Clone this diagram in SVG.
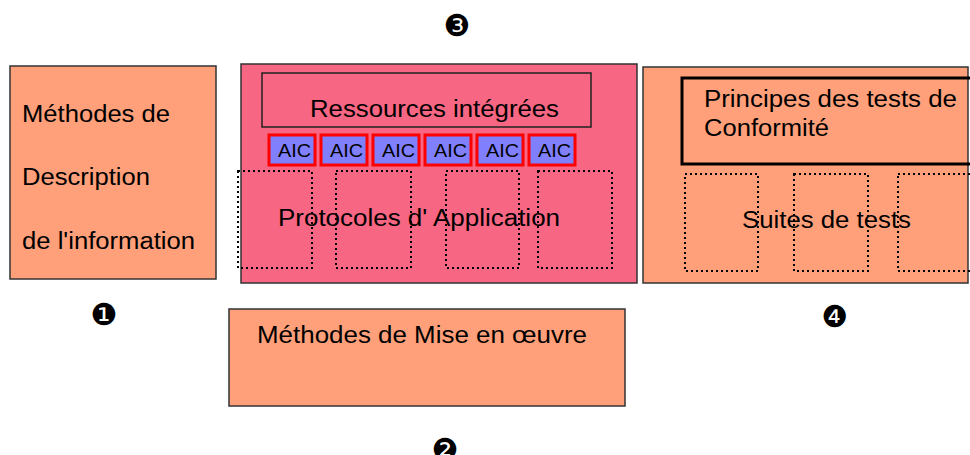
<svg xmlns="http://www.w3.org/2000/svg" width="970" height="455" viewBox="0 0 970 455">
<style>
text{font-family:"Liberation Sans",Arial,sans-serif;fill:#000}
.sal{fill:#FFA07A;stroke:#333;stroke-width:1.5}
.pink{fill:#F76682;stroke:#333;stroke-width:1.5}
.inner{fill:none;stroke:#222;stroke-width:1.5}
.thick{fill:none;stroke:#000;stroke-width:3}
.dot{fill:none;stroke:#000;stroke-width:2;stroke-dasharray:2 3}
.aic{fill:#8080FF;stroke:#FF0000;stroke-width:3}
.aict{font-size:19px}
.big{font-size:23.5px}
.num{font-family:"DejaVu Sans",sans-serif;font-size:30px;text-anchor:middle}
</style>
<rect width="970" height="455" fill="#fff"/>
<g id="n1">
<rect class="sal" x="10" y="66" width="206" height="213"/>
<text class="big" x="22" y="122" textLength="148" lengthAdjust="spacingAndGlyphs">Méthodes de</text>
<text class="big" x="22" y="185" textLength="128" lengthAdjust="spacingAndGlyphs">Description</text>
<text class="big" x="22" y="249" textLength="173" lengthAdjust="spacingAndGlyphs">de l'information</text>
</g>
<g id="n3">
<rect class="pink" x="241" y="64" width="396" height="219"/>
<rect class="inner" x="262" y="73" width="329" height="54"/>
<text class="big" x="310" y="117" textLength="249" lengthAdjust="spacingAndGlyphs">Ressources intégrées</text>
<g id="aics">
<rect class="aic" x="269" y="135" width="46" height="30"/><text class="aict" x="278" y="157" textLength="33" lengthAdjust="spacingAndGlyphs">AIC</text>
<rect class="aic" x="321" y="135" width="46" height="30"/><text class="aict" x="330" y="157" textLength="33" lengthAdjust="spacingAndGlyphs">AIC</text>
<rect class="aic" x="373" y="135" width="46" height="30"/><text class="aict" x="382" y="157" textLength="33" lengthAdjust="spacingAndGlyphs">AIC</text>
<rect class="aic" x="425" y="135" width="46" height="30"/><text class="aict" x="434" y="157" textLength="33" lengthAdjust="spacingAndGlyphs">AIC</text>
<rect class="aic" x="477" y="135" width="46" height="30"/><text class="aict" x="486" y="157" textLength="33" lengthAdjust="spacingAndGlyphs">AIC</text>
<rect class="aic" x="529" y="135" width="46" height="30"/><text class="aict" x="538" y="157" textLength="33" lengthAdjust="spacingAndGlyphs">AIC</text>
</g>
<rect class="dot" x="238" y="171" width="74" height="97"/>
<rect class="dot" x="336" y="171" width="75" height="97"/>
<rect class="dot" x="446" y="171" width="73" height="97"/>
<rect class="dot" x="538" y="171" width="74" height="97"/>
<text class="big" x="278" y="226" textLength="282" lengthAdjust="spacingAndGlyphs">Protocoles d' Application</text>
</g>
<g id="n4">
<rect class="sal" x="643" y="67" width="325" height="216"/>
<rect class="thick" x="682" y="78" width="290" height="86"/>
<text class="big" x="704" y="107" textLength="253" lengthAdjust="spacingAndGlyphs">Principes des tests de</text>
<text class="big" x="704" y="136" textLength="125" lengthAdjust="spacingAndGlyphs">Conformité</text>
<rect class="dot" x="685" y="174" width="73" height="97"/>
<rect class="dot" x="794" y="174" width="74" height="97"/>
<rect class="dot" x="898" y="174" width="80" height="97"/>
<text class="big" x="742" y="228" textLength="169" lengthAdjust="spacingAndGlyphs">Suites de tests</text>
</g>
<g id="n2">
<rect class="sal" x="229" y="309" width="396" height="97"/>
<text class="big" x="257" y="343" textLength="330" lengthAdjust="spacingAndGlyphs">Méthodes de Mise en œuvre</text>
</g>
<g id="labels">
<text class="num" x="104" y="325">❶</text>
<text class="num" x="445" y="460">❷</text>
<text class="num" x="457" y="36">❸</text>
<text class="num" x="835" y="327">❹</text>
</g>
<g id="connectors"/>
</svg>
